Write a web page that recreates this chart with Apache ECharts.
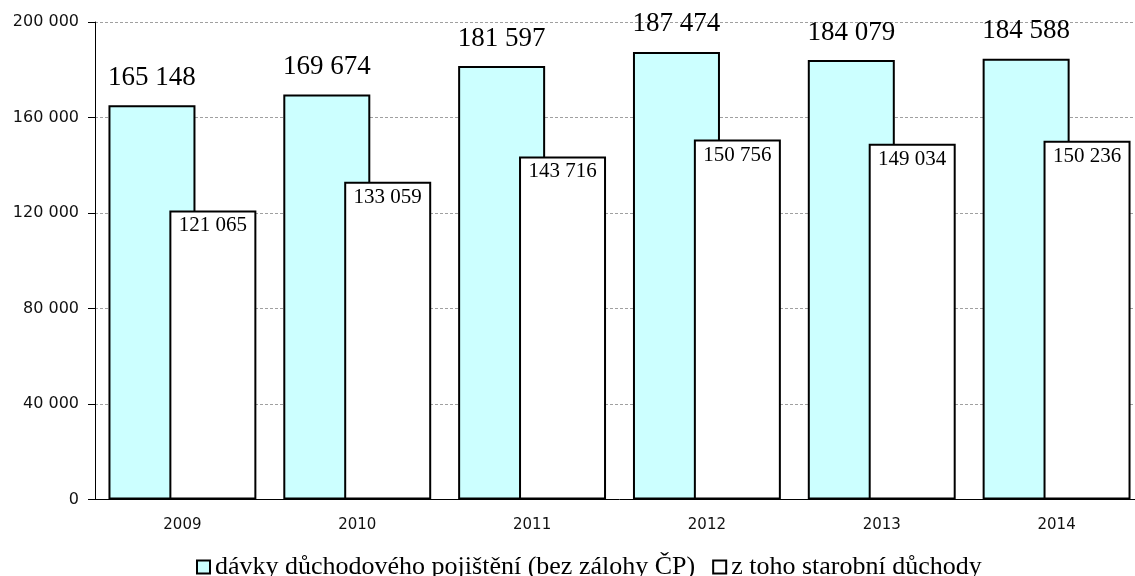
<!DOCTYPE html>
<html>
<head>
<meta charset="utf-8">
<script src="https://cdn.jsdelivr.net/npm/echarts@6/dist/echarts.min.js"></script>
<style>
  html, body { margin: 0; padding: 0; background: #fff; overflow: hidden; }
  /* canvas is a little wider than the window so the plot runs past the right edge */
  #chart { width: 1144px; height: 576px; }
</style>
</head>
<body>
<div id="chart"></div>
<script>
const years = ['2009', '2010', '2011', '2012', '2013', '2014'];
const benefitsAll = [165148, 169674, 181597, 187474, 184079, 184588];
const oldAgePensions = [121065, 133059, 143716, 150756, 149034, 150236];
const seriesNames = ['dávky důchodového pojištění (bez zálohy ČP)', 'z toho starobní důchody'];

const serif = '"Liberation Serif", "Times New Roman", serif';
const axisFont = '"DejaVu Sans", sans-serif';
const groupDigits = v => String(v).replace(/\B(?=(\d{3})+(?!\d))/g, ' ');

const chart = echarts.init(document.getElementById('chart'));
chart.setOption({
  animation: false,
  grid: { left: 95, right: 0, top: 22, bottom: 76.5 },
  legend: {
    left: 191, top: 549,
    icon: 'rect',
    itemWidth: 13, itemHeight: 13, itemGap: 17,
    textStyle: { fontFamily: serif, fontSize: 26, color: '#000' },
    data: seriesNames
  },
  xAxis: {
    type: 'category',
    data: years,
    axisLine: { lineStyle: { color: '#000', width: 1 } },
    axisTick: { length: 6, lineStyle: { color: '#000' } },
    axisLabel: { margin: 18, fontFamily: axisFont, fontSize: 15, color: '#111' }
  },
  yAxis: {
    type: 'value',
    min: 0, max: 200000, interval: 40000,
    axisLine: { show: true, lineStyle: { color: '#000', width: 1 } },
    axisTick: { show: true, length: 7, lineStyle: { color: '#000' } },
    axisLabel: {
      margin: 16, fontFamily: axisFont, fontSize: 16, color: '#111',
      formatter: v => groupDigits(v)
    },
    splitLine: { show: true, lineStyle: { color: '#a0a0a0', type: [3, 2], width: 1 } }
  },
  series: [
    {
      name: seriesNames[0],
      type: 'bar',
      data: benefitsAll,
      barWidth: 87,
      barGap: '-30%',
      itemStyle: { color: '#ccffff', borderColor: '#000', borderWidth: 2 },
      label: {
        show: true, position: 'top', distance: 14,
        fontFamily: serif, fontSize: 27, color: '#000',
        formatter: p => groupDigits(p.value)
      }
    },
    {
      name: seriesNames[1],
      type: 'bar',
      data: oldAgePensions,
      barWidth: 87,
      itemStyle: { color: '#ffffff', borderColor: '#000', borderWidth: 2 },
      label: {
        show: true, position: 'insideTop', distance: 5,
        fontFamily: serif, fontSize: 21, color: '#000',
        formatter: p => groupDigits(p.value)
      }
    }
  ]
});
</script>
</body>
</html>
